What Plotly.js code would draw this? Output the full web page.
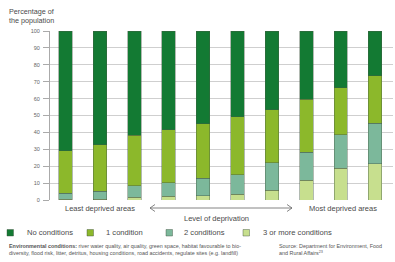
<!DOCTYPE html>
<html><head><meta charset="utf-8">
<script src="https://cdn.plot.ly/plotly-3.0.1.min.js"></script>
<style>html,body{margin:0;padding:0;background:#fff;}#chart{width:395px;height:262px;}</style>
</head><body><div id="chart"></div>
<script>
// Data (percentage of population by deprivation decile, least -> most deprived)
var categories = ["D1","D2","D3","D4","D5","D6","D7","D8","D9","D10"];
var seriesNames = ["3 or more conditions","2 conditions","1 condition","No conditions"];
var threePlus   = [0.5, 0.5, 1.6, 2.2, 2.4, 3.5, 5.7, 11.8, 18.9, 21.5];
var twoCond     = [3.4, 4.6, 6.7, 8.0, 10.4, 11.3, 16.3, 16.5, 19.7, 24.0];
var oneCond     = [25.2, 27.6, 29.9, 31.3, 32.3, 34.6, 31.5, 31.3, 27.9, 27.9];
var noCond      = [70.9, 67.3, 61.8, 58.5, 54.9, 50.6, 46.5, 40.4, 33.5, 26.6];
var yTicks = [0,10,20,30,40,50,60,70,80,90,100];
var legendOrder = ["No conditions","1 condition","2 conditions","3 or more conditions"];

var colors = {
  "No conditions": "#137a33",
  "1 condition": "#8cb82b",
  "2 conditions": "#7cb89b",
  "3 or more conditions": "#c7df8e"
};
var values = {
  "No conditions": noCond, "1 condition": oneCond,
  "2 conditions": twoCond, "3 or more conditions": threePlus
};

var traces = seriesNames.map(function(n){
  return {type:"bar", name:n, x:categories, y:values[n],
    marker:{color:colors[n], line:{color:"rgba(70,90,70,0.7)", width:0.6}},
    hoverinfo:"name+y", showlegend:false};
});

// pixel -> paper helpers (plot area: x 50..393, y 31..200)
var L=50, R=393, T=31, B=200;
function px(x){return (x-L)/(R-L);}
function py(y){return (B-y)/(B-T);}

var font = "Liberation Sans, Arial, sans-serif";
var txt = "#4a4a4a";
var annotations = [
  {text:"Percentage of<br>the population", x:px(7), y:py(16), xanchor:"left", yanchor:"middle", align:"left",
   font:{size:7.2, color:txt, family:font}},
  {text:"Least deprived areas", x:px(100), y:py(208.5), xanchor:"center", yanchor:"middle", font:{size:7.5,color:txt,family:font}},
  {text:"Most deprived areas", x:px(343), y:py(208.5), xanchor:"center", yanchor:"middle", font:{size:7.5,color:txt,family:font}},
  {text:"Level of deprivation", x:px(216), y:py(218.5), xanchor:"center", yanchor:"middle", font:{size:7.5,color:txt,family:font}},
  {text:"<b>Environmental conditions:</b> river water quality, air quality, green space, habitat favourable to bio-<br>diversity, flood risk, litter, detritus, housing conditions, road accidents, regulate sites (e.g. landfill)",
   x:px(7), y:py(249), xanchor:"left", yanchor:"middle", align:"left", font:{size:5.4,color:"#555",family:font}},
  {text:"Source: Department for Environment, Food<br>and Rural Affairs<sup>23</sup>",
   x:px(277), y:py(249), xanchor:"left", yanchor:"middle", align:"left", font:{size:5.4,color:"#555",family:font}}
];
var legendPos = [[7,25],[87,104],[166,182],[243,261]];
var shapes = [
  {type:"line", xref:"paper", yref:"paper", x0:px(150), x1:px(292), y0:py(208), y1:py(208), line:{color:"#666", width:0.8}},
  {type:"path", xref:"paper", yref:"paper", path:"M "+px(155)+" "+py(204.5)+" L "+px(150)+" "+py(208)+" L "+px(155)+" "+py(211.5), line:{color:"#666", width:0.8}},
  {type:"path", xref:"paper", yref:"paper", path:"M "+px(287)+" "+py(204.5)+" L "+px(292)+" "+py(208)+" L "+px(287)+" "+py(211.5), line:{color:"#666", width:0.8}}
];
legendOrder.forEach(function(n,i){
  var p = legendPos[i];
  shapes.push({type:"rect", xref:"paper", yref:"paper", x0:px(p[0]), x1:px(p[0]+6.5), y0:py(229.5), y1:py(236),
    fillcolor:colors[n], line:{color:"rgba(60,80,60,0.7)", width:0.6}});
  annotations.push({text:n, x:px(p[1]), y:py(233), xanchor:"left", yanchor:"middle",
    font:{size:7.6,color:txt,family:font}});
});
annotations.forEach(function(a){a.xref="paper"; a.yref="paper"; a.showarrow=false;});

var layout = {
  width:395, height:262, barmode:"stack", bargap:0.61,
  margin:{l:L, r:395-R, t:T, b:262-B, pad:0},
  paper_bgcolor:"#fff", plot_bgcolor:"#fff",
  showlegend:false,
  xaxis:{type:"category", range:[-0.45,9.52], showticklabels:false, ticks:"", showgrid:false, zeroline:false, showline:false, fixedrange:true},
  yaxis:{range:[0,100], tickvals:yTicks, ticktext:yTicks.map(String), ticks:"outside", ticklen:6, tickcolor:"#aaa", tickwidth:1,
    showline:true, linecolor:"#aaa", linewidth:1, gridcolor:"#cfcfcf", gridwidth:1, zeroline:false,
    tickfont:{size:5.5, color:"#666", family:font}, ticklabelstandoff:2, fixedrange:true},
  annotations:annotations, shapes:shapes,
  font:{family:font, color:txt}
};
Plotly.newPlot("chart", traces, layout, {displayModeBar:false, staticPlot:true});
</script></body></html>
